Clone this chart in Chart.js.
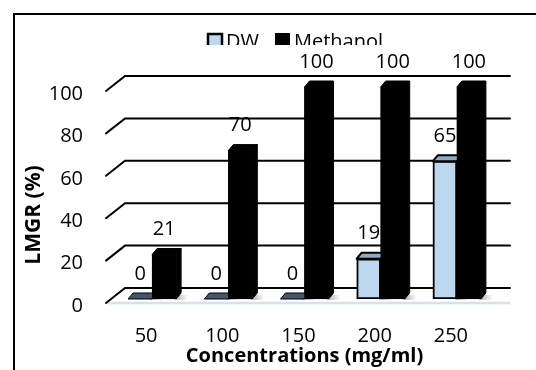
<!DOCTYPE html>
<html>
<head>
<meta charset="utf-8">
<script src="https://cdn.jsdelivr.net/npm/chart.js@4/dist/chart.umd.min.js"></script>
<style>
  html, body { margin: 0; padding: 0; background: #fff; }
  #wrap { width: 536px; height: 370px; position: relative; }
</style>
</head>
<body>
<div id="wrap"><canvas id="c" width="536" height="370"></canvas></div>
<script>
// Growth-rate data per concentration and solvent
const categories = ['50', '100', '150', '200', '250'];
const dwValues = [0, 0, 0, 19, 65];
const methanolValues = [21, 70, 100, 100, 100];
const yTicks = [0, 20, 40, 60, 80, 100];
const seriesNames = ['DW', 'Methanol'];
const xTitle = 'Concentrations (mg/ml)';
const yTitle = 'LMGR (%)';

const FONT = '"Open Sans", "Liberation Sans", sans-serif';
const TEXT_SIZE = 20;
const DW_FILL = '#bdd7ee';
const DW_TOP = '#8fa9c3';
const DW_TOP_FLAT = '#46566a';

// perspective offsets of the back wall and of the bar tops/sides
const WALL = { frontInset: 8, dx: 19, dyFront: 4, dyBack: 11, extend: 15 };
const BAR = { dx: 5, dy: 6 };

function poly(ctx, pts, fill, stroke, lw) {
  ctx.beginPath();
  ctx.moveTo(pts[0][0], pts[0][1]);
  for (let i = 1; i < pts.length; i++) ctx.lineTo(pts[i][0], pts[i][1]);
  ctx.closePath();
  if (fill) { ctx.fillStyle = fill; ctx.fill(); }
  if (stroke) { ctx.strokeStyle = stroke; ctx.lineWidth = lw; ctx.lineJoin = 'round'; ctx.stroke(); }
}

const wallPlugin = {
  id: 'wall',
  beforeDatasetsDraw(chart) {
    const { ctx, chartArea: a, scales: { y } } = chart;
    const fx = a.left - WALL.frontInset;
    const bx = fx + WALL.dx;
    const ex = a.right + WALL.extend;
    ctx.save();
    // floor front edge
    const p0 = y.getPixelForValue(0);
    ctx.strokeStyle = '#d5e1ec';
    ctx.lineWidth = 2.5;
    ctx.beginPath();
    ctx.moveTo(fx + 2, p0 + WALL.dyFront);
    ctx.lineTo(ex, p0 + WALL.dyFront);
    ctx.stroke();
    // grid lines: short side-wall stub, then along the back wall
    ctx.strokeStyle = '#000';
    ctx.lineWidth = 2;
    ctx.lineCap = 'round';
    yTicks.forEach(v => {
      const p = y.getPixelForValue(v);
      ctx.beginPath();
      ctx.moveTo(fx, p + WALL.dyFront);
      ctx.lineTo(bx, p - WALL.dyBack);
      ctx.lineTo(ex, p - WALL.dyBack);
      ctx.stroke();
    });
    // soft floor shadows to the right of each column
    chart.data.datasets.forEach((ds, di) => {
      chart.getDatasetMeta(di).data.forEach(el => {
        const { x, width, base } = el.getProps(['x', 'width', 'base'], true);
        const r = x + width / 2;
        const g = ctx.createLinearGradient(r, 0, r + 12, 0);
        g.addColorStop(0, 'rgba(120,120,120,0.55)');
        g.addColorStop(1, 'rgba(120,120,120,0)');
        poly(ctx, [[r - 2, base + 1], [r + 10, base + 1], [r + 13, base - 4], [r + 2, base - 4]], g, null, 0);
      });
    });
    ctx.restore();
  }
};

const barDepthPlugin = {
  id: 'barDepth',
  afterDatasetsDraw(chart) {
    const { ctx } = chart;
    const dw = chart.getDatasetMeta(0).data;
    const me = chart.getDatasetMeta(1).data;
    ctx.save();
    // tops of the DW columns
    dw.forEach((el, i) => {
      const { x, y, width } = el.getProps(['x', 'y', 'width'], true);
      const l = x - width / 2, r = x + width / 2;
      const flat = dwValues[i] === 0;
      poly(ctx, [[l, y], [l + BAR.dx, y - BAR.dy], [r + BAR.dx, y - BAR.dy], [r, y]],
        flat ? DW_TOP_FLAT : DW_TOP, '#000', flat ? 1 : 2);
    });
    // methanol columns sit beside them: front face, top and side
    me.forEach(el => {
      el.draw(ctx);
      const { x, y, width, base } = el.getProps(['x', 'y', 'width', 'base'], true);
      const l = x - width / 2, r = x + width / 2;
      poly(ctx, [[l, y], [l + BAR.dx, y - BAR.dy], [r + BAR.dx, y - BAR.dy], [r, y]], '#000', '#000', 1);
      poly(ctx, [[r, y], [r + BAR.dx, y - BAR.dy], [r + BAR.dx, base - BAR.dy], [r, base]], '#000', '#000', 1);
    });
    ctx.restore();
  }
};

const labelPlugin = {
  id: 'valueLabels',
  afterDatasetsDraw(chart) {
    const { ctx } = chart;
    ctx.save();
    ctx.font = TEXT_SIZE + 'px ' + FONT;
    ctx.fillStyle = '#000';
    ctx.textAlign = 'center';
    ctx.textBaseline = 'middle';
    chart.data.datasets.forEach((ds, di) => {
      chart.getDatasetMeta(di).data.forEach((el, i) => {
        const { x, y } = el.getProps(['x', 'y'], true);
        ctx.fillText(String(ds.data[i]), x, y - 25);
      });
    });
    ctx.restore();
  }
};

const decorPlugin = {
  id: 'decor',
  afterDraw(chart) {
    const { ctx } = chart;
    ctx.save();
    // outer frame
    ctx.strokeStyle = '#000';
    ctx.lineWidth = 2;
    ctx.beginPath();
    ctx.moveTo(14, 370);
    ctx.lineTo(14, 14);
    ctx.lineTo(536, 14);
    ctx.stroke();

    // vertical axis title
    ctx.font = 'bold 21px ' + FONT;
    ctx.fillStyle = '#000';
    ctx.textAlign = 'center';
    ctx.textBaseline = 'middle';
    ctx.translate(34, 215);
    ctx.rotate(-Math.PI / 2);
    ctx.fillText(yTitle, 0, 0);
    ctx.restore();

    // legend, clipped along its lower edge by the plot area
    ctx.save();
    ctx.beginPath();
    ctx.rect(0, 0, 536, 45);
    ctx.clip();
    ctx.font = TEXT_SIZE + 'px ' + FONT;
    ctx.textAlign = 'left';
    ctx.textBaseline = 'alphabetic';
    ctx.fillStyle = DW_FILL;
    ctx.fillRect(208, 34, 14, 14);
    ctx.strokeStyle = '#000';
    ctx.lineWidth = 2.5;
    ctx.strokeRect(208, 34, 14, 14);
    ctx.fillStyle = '#000';
    ctx.fillText(seriesNames[0], 226, 47.5);
    ctx.fillRect(275, 33, 15, 16);
    ctx.fillText(seriesNames[1], 294, 47.5);
    ctx.restore();
  }
};

new Chart(document.getElementById('c'), {
  type: 'bar',
  data: {
    labels: categories,
    datasets: [
      { label: seriesNames[0], data: dwValues, backgroundColor: DW_FILL, borderColor: '#000', borderWidth: 2 },
      { label: seriesNames[1], data: methanolValues, backgroundColor: '#000', borderColor: '#000', borderWidth: 1 }
    ]
  },
  options: {
    responsive: false,
    animation: false,
    devicePixelRatio: 1,
    layout: { padding: { top: 87, right: 41, left: 0, bottom: 0 } },
    datasets: { bar: { barThickness: 24, borderSkipped: false } },
    plugins: { legend: { display: false }, tooltip: { enabled: false } },
    scales: {
      x: {
        grid: { display: false, drawTicks: false },
        border: { display: false },
        ticks: { font: { family: FONT, size: TEXT_SIZE }, color: '#000', padding: 25, labelOffset: -6, maxRotation: 0 },
        title: { display: true, text: xTitle, font: { family: FONT, size: 20, weight: 'bold' }, color: '#000', padding: { top: 0, bottom: 2 } },
        afterFit(s) { s.height = 71; }
      },
      y: {
        min: 0, max: 100,
        grid: { display: false, drawTicks: false },
        border: { display: false },
        ticks: { font: { family: FONT, size: TEXT_SIZE }, color: '#000', padding: 31, labelOffset: 7 },
        afterBuildTicks(s) { s.ticks = yTicks.map(v => ({ value: v })); },
        afterFit(s) { s.width = 114; }
      }
    }
  },
  plugins: [wallPlugin, barDepthPlugin, labelPlugin, decorPlugin]
});
</script>
</body>
</html>
